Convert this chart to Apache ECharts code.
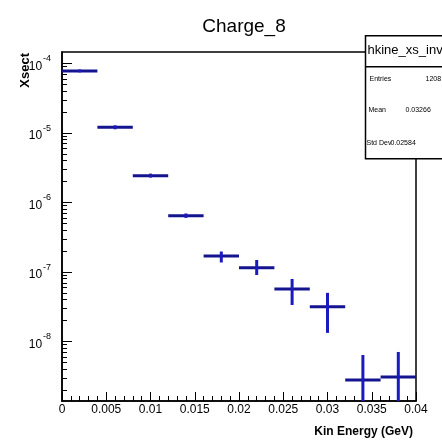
<!DOCTYPE html>
<html>
<head>
<meta charset="utf-8">
<script src="https://cdn.jsdelivr.net/npm/echarts@6/dist/echarts.min.js"></script>
<style>html,body{margin:0;padding:0;background:#fff;}#c{width:442px;height:443px;}</style>
</head>
<body>
<div id="c"></div>
<script>
// ---- data ----
var binCenters = [0.002, 0.006, 0.010, 0.014, 0.018, 0.022, 0.026, 0.030, 0.034, 0.038];
var binHalfWidth = [0.002, 0.002, 0.002, 0.002, 0.002, 0.002, 0.002, 0.002, 0.002, 0.002];
var xsect = [7.8e-5, 1.21e-5, 2.43e-6, 6.46e-7, 1.70e-7, 1.15e-7, 5.69e-8, 3.16e-8, 2.79e-9, 3.09e-9];
var errLow = [7.45e-5, 1.13e-5, 2.28e-6, 6.0e-7, 1.37e-7, 9.06e-8, 3.35e-8, 1.33e-8, 0, 0];
var errHigh = [8.2e-5, 1.29e-5, 2.60e-6, 6.95e-7, 1.97e-7, 1.49e-7, 7.94e-8, 5.01e-8, 6.4e-9, 7.07e-9];
var xTicks = [0, 0.005, 0.01, 0.015, 0.02, 0.025, 0.03, 0.035, 0.04];
var yMajorTicks = [1e-8, 1e-7, 1e-6, 1e-5, 1e-4];
var yMinorTicks = [];
[-9, -8, -7, -6, -5, -4].forEach(function (e) {
  for (var m = 2; m <= 9; m++) yMinorTicks.push(m * Math.pow(10, e));
});
var statsLines = [['Entries', '1208'], ['Mean', '0.03266'], ['Std Dev', '0.02584']];
var histName = 'hkine_xs_inv';

var yMin = Math.pow(10, -8.856), yMax = Math.pow(10, -3.835);

var seriesData = binCenters.map(function (x, i) {
  return [x, xsect[i], binHalfWidth[i], errLow[i], errHigh[i]];
});

var chart = echarts.init(document.getElementById('c'));
var font = '"Liberation Sans", Arial, sans-serif';

chart.setOption({
  animation: false,
  backgroundColor: '#fff',
  title: {
    text: 'Charge_8', left: 239, top: 12, textAlign: 'center',
    textStyle: { fontFamily: font, fontSize: 19, fontWeight: 'normal', color: '#000' }
  },
  grid: { left: 62, right: 26, top: 52, bottom: 42, show: true, borderColor: '#000', borderWidth: 1.5, backgroundColor: 'transparent' },
  xAxis: {
    type: 'value', min: 0, max: 0.04, interval: 0.005,
    axisLine: { show: true, lineStyle: { color: '#000', width: 1.5 } },
    axisTick: { show: true, inside: true, length: 9, lineStyle: { color: '#000', width: 1 } },
    minorTick: { show: true, splitNumber: 5, length: 5, lineStyle: { color: '#000', width: 1 } },
    splitLine: { show: false },
    axisLabel: { customValues: xTicks, color: '#000', fontFamily: font, fontSize: 12, margin: 3,
      formatter: function (v) { return v === 0 ? '0' : String(+v.toFixed(3)); } }
  },
  yAxis: [{
    type: 'log', min: yMin, max: yMax,
    axisLine: { show: true, lineStyle: { color: '#000', width: 1.5 } },
    axisTick: { show: true, inside: true, length: 10, customValues: yMajorTicks, lineStyle: { color: '#000', width: 1 } },
    splitLine: { show: false },
    axisLabel: {
      customValues: yMajorTicks, margin: 11,
      formatter: function (v) { var e = Math.round(Math.log10(v)); return '{b|10}{s| }{e|' + e + '}'; },
      rich: {
        b: { fontFamily: font, fontSize: 12, color: '#000', lineHeight: 18, verticalAlign: 'bottom' },
        s: { fontFamily: font, fontSize: 3, lineHeight: 18 },
        e: { fontFamily: font, fontSize: 9, color: '#000', lineHeight: 18, verticalAlign: 'top' }
      }
    }
  }, {
    type: 'log', min: yMin, max: yMax, position: 'left',
    axisLine: { show: true, lineStyle: { color: 'rgba(0,0,0,0)' } },
    axisTick: { show: true, inside: true, length: 5, customValues: yMinorTicks, lineStyle: { color: '#000', width: 1 } },
    axisLabel: { show: false },
    splitLine: { show: false }
  }],
  series: [{
    type: 'custom',
    xAxisIndex: 0, yAxisIndex: 0,
    clip: true,
    data: seriesData,
    renderItem: function (params, api) {
      var x = api.value(0), y = api.value(1), hw = api.value(2), lo = api.value(3), hi = api.value(4);
      var cs = params.coordSys;
      var pL = api.coord([x - hw, y]);
      var pR = api.coord([x + hw, y]);
      var pHi = api.coord([x, hi]);
      var yLo = lo > 0 ? api.coord([x, lo])[1] : cs.y + cs.height;
      return {
        type: 'group',
        children: [
          { type: 'line', shape: { x1: pL[0], y1: pL[1], x2: pR[0], y2: pR[1] }, style: { stroke: '#14148f', lineWidth: 3 } },
          { type: 'line', shape: { x1: pHi[0], y1: pHi[1], x2: pHi[0], y2: yLo }, style: { stroke: '#1a1ac0', lineWidth: 3 } }
        ]
      };
    }
  }],
  graphic: [
    { type: 'text', left: 19, top: 53, rotation: Math.PI / 2, style: { text: 'Xsect', font: 'bold 13px ' + font, fill: '#000' } },
    { type: 'text', right: 29, top: 426, style: { text: 'Kin Energy (GeV)', font: 'bold 12px ' + font, fill: '#000' } },
    { type: 'group', left: 363, top: 35, children: [
      { type: 'rect', shape: { x: 0, y: 0, width: 100, height: 123 }, style: { fill: '#fff', stroke: '#000', lineWidth: 1.5 } },
      { type: 'line', shape: { x1: 0, y1: 31, x2: 100, y2: 31 }, style: { stroke: '#000', lineWidth: 1.5 } },
      { type: 'text', x: 2, y: 8, style: { text: histName, font: '13px ' + font, fill: '#000' } },
      { type: 'text', x: 4, y: 40, style: { text: statsLines[0][0], font: '7px ' + font, fill: '#000' } },
      { type: 'text', x: 60, y: 40, style: { text: statsLines[0][1], font: '7px ' + font, fill: '#000' } },
      { type: 'text', x: 3, y: 71, style: { text: statsLines[1][0], font: '7px ' + font, fill: '#000' } },
      { type: 'text', x: 40, y: 71, style: { text: statsLines[1][1], font: '7px ' + font, fill: '#000' } },
      { type: 'text', x: 1, y: 104, style: { text: statsLines[2][0], font: '7px ' + font, fill: '#000' } },
      { type: 'text', x: 25, y: 104, style: { text: statsLines[2][1], font: '7px ' + font, fill: '#000' } }
    ] }
  ]
});
</script>
</body>
</html>
